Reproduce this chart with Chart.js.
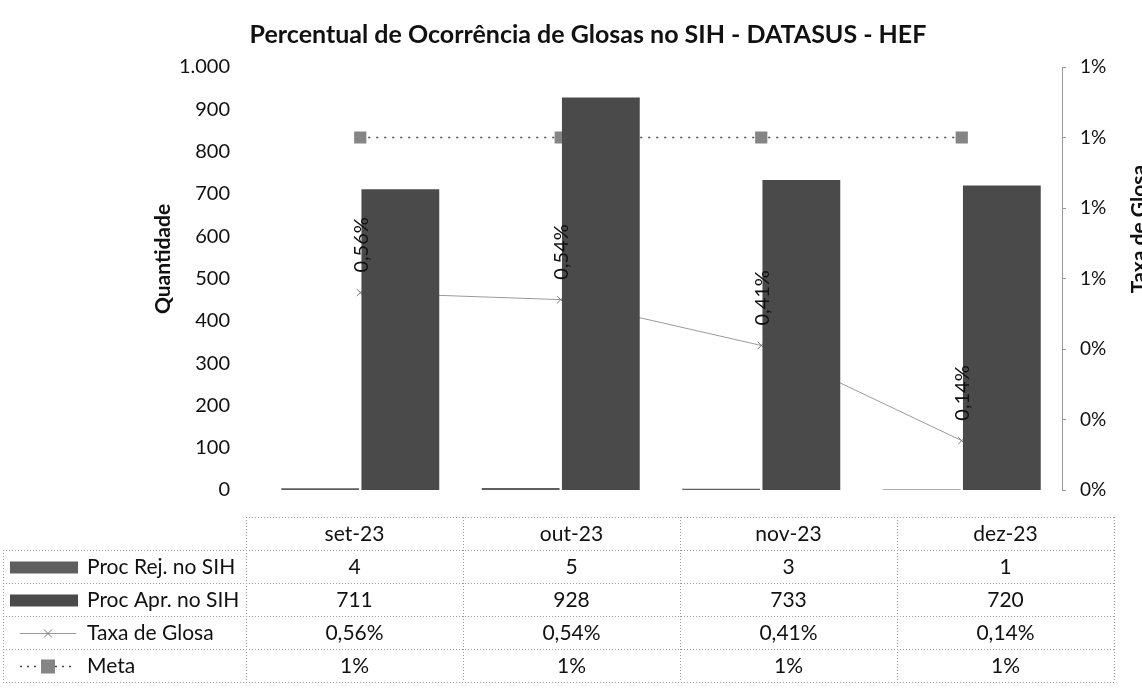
<!DOCTYPE html>
<html>
<head>
<meta charset="utf-8">
<script src="https://cdn.jsdelivr.net/npm/chart.js@4.4.1/dist/chart.umd.min.js"></script>
<style>
  html, body { margin: 0; padding: 0; background: #fff; }
  #wrap { width: 1142px; height: 693px; }
</style>
</head>
<body>
<div id="wrap"><canvas id="chart"></canvas></div>
<script>
const months = ['set-23', 'out-23', 'nov-23', 'dez-23'];
const procRej = [4, 5, 3, 1];
const procApr = [711, 928, 733, 720];
const taxaGlosa = [0.0056, 0.0054, 0.0041, 0.0014];
const meta = [0.01, 0.01, 0.01, 0.01];
const taxaLabels = ['0,56%', '0,54%', '0,41%', '0,14%'];
const metaLabels = ['1%', '1%', '1%', '1%'];

const FONT = 'Lato, "Open Sans", sans-serif';
const INK = '#111';

const fmtQtd = v => v >= 1000 ? Math.floor(v / 1000) + '.' + String(v % 1000).padStart(3, '0') : String(v);
const fmtPct = v => Math.round(v * 100) + '%';

// rotated labels on the Taxa line, axis titles, chart title and the data table
const extras = {
  id: 'extras',
  afterDatasetsDraw(chart) {
    const ctx = chart.ctx;
    const pts = chart.getDatasetMeta(2).data;
    ctx.save();
    ctx.font = '20px ' + FONT;
    ctx.fillStyle = INK;
    ctx.textAlign = 'left';
    ctx.textBaseline = 'middle';
    pts.forEach((p, i) => {
      ctx.save();
      ctx.translate(p.x + 1, p.y - 20);
      ctx.rotate(-Math.PI / 2);
      ctx.fillText(taxaLabels[i], 0, 0);
      ctx.restore();
    });
    ctx.restore();
  },
  afterDraw(chart) {
    const ctx = chart.ctx;
    const area = chart.chartArea;
    ctx.save();

    // title
    ctx.fillStyle = INK;
    ctx.font = 'bold 25px ' + FONT;
    ctx.textAlign = 'center';
    ctx.textBaseline = 'middle';
    ctx.fillText('Percentual de Ocorrência de Glosas no SIH - DATASUS - HEF', 588, 35);

    // axis titles
    ctx.font = 'bold 21px ' + FONT;
    ctx.save();
    ctx.translate(163, 259);
    ctx.rotate(-Math.PI / 2);
    ctx.fillText('Quantidade', 0, 0);
    ctx.restore();
    ctx.save();
    ctx.translate(1139, 229);
    ctx.rotate(-Math.PI / 2);
    ctx.fillText('Taxa de Glosa', 0, 0);
    ctx.restore();

    // data table
    const tLeft = area.left - 14, tRight = area.right + 52;
    const colW = (tRight - tLeft) / months.length;
    const top = 517, rowH = 33, labLeft = 3;
    const rows = [
      { name: 'Proc Rej. no SIH', vals: procRej.map(String), key: 'rej' },
      { name: 'Proc Apr. no SIH', vals: procApr.map(String), key: 'apr' },
      { name: 'Taxa de Glosa', vals: taxaLabels, key: 'taxa' },
      { name: 'Meta', vals: metaLabels, key: 'meta' }
    ];
    const bottom = top + rowH * (rows.length + 1);

    ctx.strokeStyle = '#9a9a9a';
    ctx.lineWidth = 1;
    ctx.setLineDash([1, 2]);
    ctx.beginPath();
    ctx.moveTo(tLeft, top + 0.5); ctx.lineTo(tRight, top + 0.5);
    for (let r = 1; r <= rows.length + 1; r++) {
      const yy = Math.round(top + r * rowH) + 0.5;
      ctx.moveTo(labLeft, yy); ctx.lineTo(tRight, yy);
    }
    for (let c = 0; c <= months.length; c++) {
      const xx = Math.round(tLeft + c * colW) + 0.5;
      ctx.moveTo(xx, top); ctx.lineTo(xx, bottom);
    }
    ctx.moveTo(labLeft + 0.5, top + rowH); ctx.lineTo(labLeft + 0.5, bottom);
    ctx.stroke();
    ctx.setLineDash([]);

    ctx.font = '21px ' + FONT;
    ctx.fillStyle = INK;
    ctx.textAlign = 'center';
    months.forEach((m, c) => ctx.fillText(m, tLeft + (c + 0.5) * colW, top + rowH / 2 + 1));
    rows.forEach((row, r) => {
      const cy = top + (r + 1.5) * rowH + 1;
      row.vals.forEach((v, c) => {
        ctx.fillStyle = INK;
        ctx.textAlign = 'center';
        ctx.fillText(v, tLeft + (c + 0.5) * colW, cy);
      });
      ctx.textAlign = 'left';
      ctx.fillText(row.name, 87, cy);
      // legend keys
      if (row.key === 'rej' || row.key === 'apr') {
        ctx.fillStyle = row.key === 'rej' ? '#5e5e5e' : '#4a4a4a';
        ctx.fillRect(10, cy - 6, 68, 12);
      } else if (row.key === 'taxa') {
        ctx.strokeStyle = '#999';
        ctx.lineWidth = 1;
        ctx.beginPath(); ctx.moveTo(20, cy); ctx.lineTo(76, cy); ctx.stroke();
        ctx.strokeStyle = '#777';
        ctx.beginPath();
        ctx.moveTo(44, cy - 4); ctx.lineTo(52, cy + 4);
        ctx.moveTo(52, cy - 4); ctx.lineTo(44, cy + 4);
        ctx.stroke();
      } else {
        ctx.strokeStyle = '#444';
        ctx.lineWidth = 1.5;
        ctx.setLineDash([2, 5]);
        ctx.beginPath(); ctx.moveTo(20, cy); ctx.lineTo(76, cy); ctx.stroke();
        ctx.setLineDash([]);
        ctx.fillStyle = '#858585';
        ctx.fillRect(41, cy - 7, 14, 14);
      }
    });
    ctx.restore();
  }
};

new Chart(document.getElementById('chart'), {
  type: 'bar',
  data: {
    labels: months,
    datasets: [
      {
        label: 'Proc Rej. no SIH',
        data: procRej,
        backgroundColor: '#5e5e5e',
        yAxisID: 'y',
        order: 1
      },
      {
        label: 'Proc Apr. no SIH',
        data: procApr,
        backgroundColor: '#4a4a4a',
        yAxisID: 'y',
        order: 1
      },
      {
        type: 'line',
        label: 'Taxa de Glosa',
        data: taxaGlosa,
        yAxisID: 'y1',
        borderColor: '#9a9a9a',
        borderWidth: 1,
        pointStyle: 'crossRot',
        pointRadius: 5,
        pointBorderColor: '#777',
        pointBorderWidth: 1,
        order: 2
      },
      {
        type: 'line',
        label: 'Meta',
        data: meta,
        yAxisID: 'y1',
        borderColor: '#444',
        borderWidth: 1.6,
        borderDash: [2, 6],
        pointStyle: 'rect',
        pointRadius: 7.5,
        pointBackgroundColor: '#858585',
        pointBorderColor: '#858585',
        order: 2
      }
    ]
  },
  options: {
    responsive: true,
    maintainAspectRatio: false,
    animation: false,
    layout: { padding: { top: 67, bottom: 203, left: 0, right: 0 } },
    datasets: { bar: { categoryPercentage: 0.8, barPercentage: 0.97 } },
    plugins: {
      legend: { display: false },
      title: { display: false },
      tooltip: { enabled: false }
    },
    scales: {
      x: { display: false },
      y: {
        position: 'left',
        min: 0,
        max: 1000,
        afterFit: s => { s.width = 260; },
        grid: { display: false },
        border: { display: false },
        ticks: {
          stepSize: 100,
          padding: 22,
          color: INK,
          font: { family: FONT, size: 20 },
          callback: v => fmtQtd(v)
        }
      },
      y1: {
        position: 'right',
        min: 0,
        max: 0.012,
        afterFit: s => { s.width = 80; },
        grid: { drawOnChartArea: false, color: '#999', tickLength: 4 },
        border: { display: true, color: '#999', dash: [1, 2] },
        ticks: {
          stepSize: 0.002,
          padding: 14,
          color: INK,
          font: { family: FONT, size: 19 },
          callback: v => fmtPct(v)
        }
      }
    }
  },
  plugins: [extras]
});
</script>
</body>
</html>
